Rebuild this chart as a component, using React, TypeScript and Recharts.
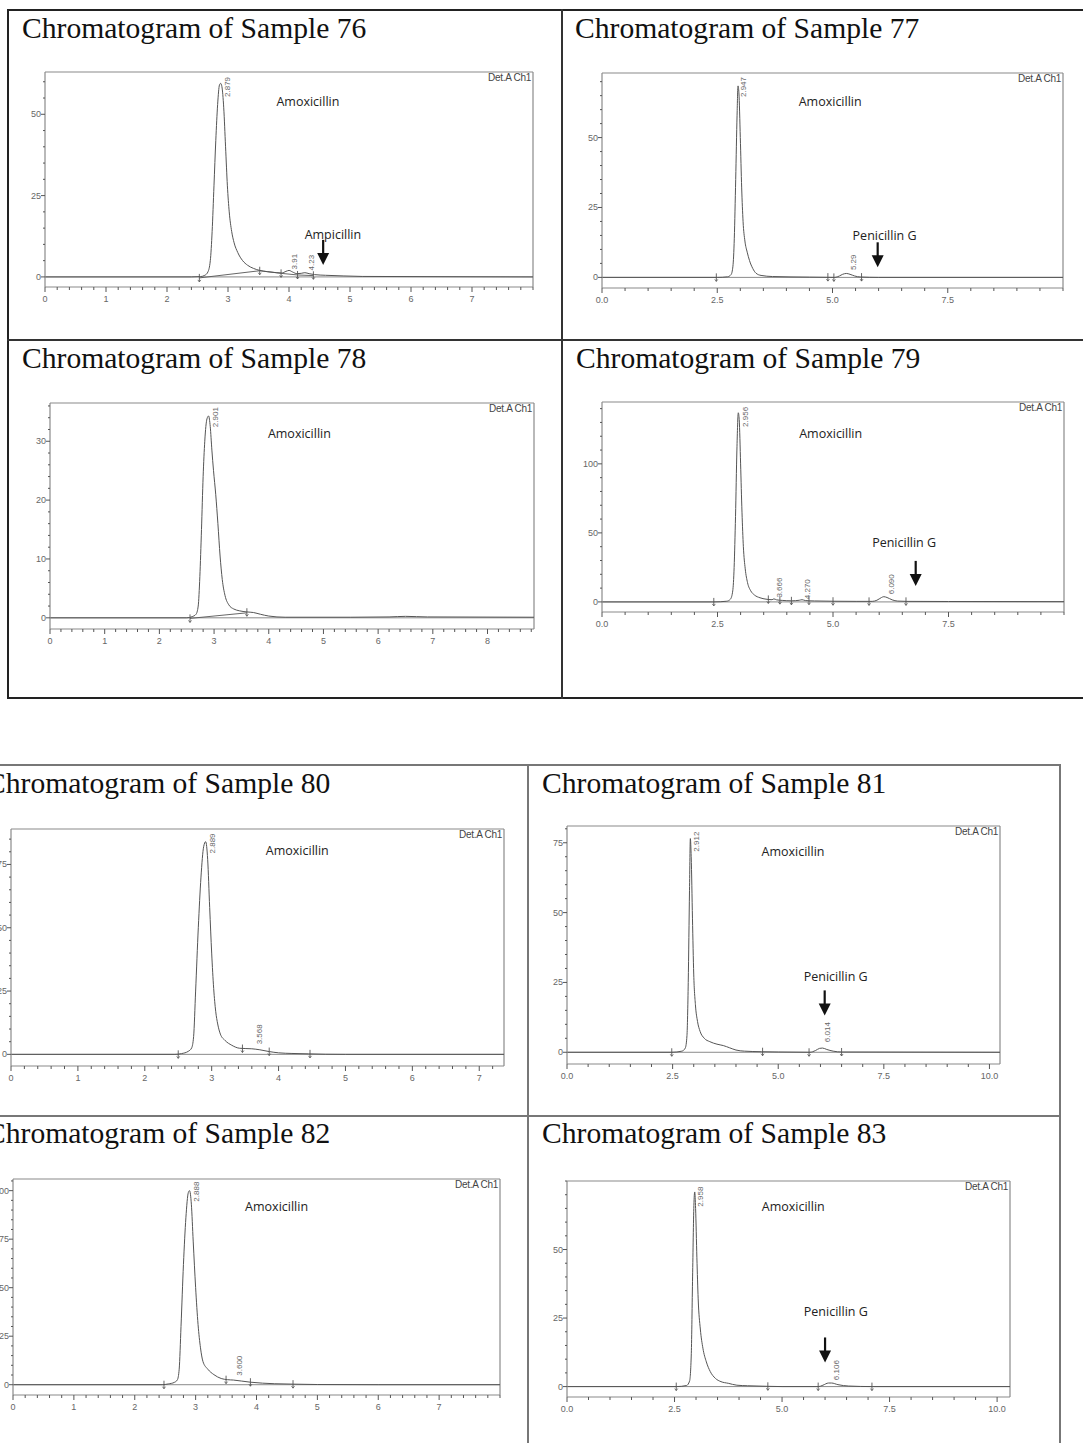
import React from 'react';
import { ComposedChart, Line, XAxis, YAxis, ReferenceLine, ReferenceDot } from 'recharts';

// retention time (min), detector signal (mAU)
const trace76 = [[0,0],[2.4,0],[2.55,0.1],[2.62,0.5],[2.67,1.5],[2.71,5],[2.74,14],[2.77,28],[2.8,42],[2.83,53],[2.86,59],[2.88,59.5],[2.9,58.5],[2.93,52],[2.96,40],[2.99,28],[3.02,20],[3.06,14],[3.1,10.5],[3.16,7.5],[3.24,5],[3.32,3.6],[3.42,2.6],[3.52,2],[3.65,1.6],[3.8,1.3],[3.88,1.2],[3.95,1.7],[4,2],[4.06,1.5],[4.13,1],[4.2,1.1],[4.26,1.3],[4.33,1],[4.42,0.7],[4.6,0.5],[4.9,0.3],[5.2,0.15],[6,0.1],[7,0.05],[8,0]];
const trace77 = [[0,0],[2.5,0],[2.72,0.2],[2.8,1],[2.84,4],[2.87,14],[2.9,35],[2.93,58],[2.95,68.5],[2.97,66],[3,50],[3.03,32],[3.06,20],[3.1,13],[3.15,9],[3.2,6],[3.27,3.2],[3.34,1.5],[3.45,0.7],[3.7,0.3],[4.5,0.1],[5.05,0],[5.15,0.5],[5.22,1.1],[5.3,1.4],[5.38,1.1],[5.48,0.5],[5.6,0.15],[6,0],[10,0]];
const trace78 = [[0,0],[2.5,0],[2.6,0.2],[2.67,0.6],[2.71,2],[2.74,7],[2.77,15],[2.8,24],[2.83,30],[2.87,33.8],[2.9,34.3],[2.93,32.5],[2.96,28.5],[2.99,25],[3.03,21],[3.07,16],[3.11,10.5],[3.15,6.5],[3.2,3.8],[3.27,2.2],[3.36,1.5],[3.46,1.2],[3.6,1],[3.72,0.9],[3.85,0.6],[4,0.3],[4.3,0.1],[5.5,0.1],[6.2,0.15],[6.5,0.25],[6.9,0.15],[8.85,0.1]];
const trace79 = [[0,0],[2.42,0],[2.7,0.5],[2.78,2],[2.83,8],[2.86,25],[2.89,62],[2.92,110],[2.95,137],[2.97,132],[3,100],[3.03,65],[3.06,40],[3.1,24],[3.15,14],[3.22,8],[3.3,5],[3.42,3],[3.55,2],[3.68,1.6],[3.72,2.2],[3.78,1.5],[3.9,1.1],[4.1,0.8],[4.27,1.2],[4.33,1.6],[4.4,1],[4.6,0.7],[5,0.5],[5.5,0.4],[5.85,0.4],[5.95,1.2],[6.05,3.2],[6.1,3.8],[6.17,3.2],[6.28,1.5],[6.4,0.6],[6.6,0.4],[7.5,0.3],[10,0.2]];
const trace80 = [[0,0],[2.45,0],[2.55,0.3],[2.65,1.2],[2.7,2.5],[2.73,7],[2.76,25],[2.8,50],[2.84,70],[2.88,82],[2.91,84],[2.94,77],[2.97,58],[3,40],[3.03,26],[3.06,17],[3.09,12],[3.13,8],[3.2,5.5],[3.3,3.6],[3.42,2.4],[3.5,2.3],[3.6,2.2],[3.72,1.8],[3.86,1.1],[4,0.6],[4.2,0.35],[4.45,0.2],[4.7,0.05],[5,0],[7.37,0]];
const trace81 = [[0,0],[2.48,0],[2.72,0.4],[2.8,1.5],[2.84,6],[2.87,25],[2.9,58],[2.92,76.5],[2.94,70],[2.97,48],[3,28],[3.04,17],[3.09,11],[3.15,7.5],[3.25,5],[3.38,3.8],[3.55,2.9],[3.7,2.4],[3.85,1.6],[4,0.8],[4.2,0.4],[4.6,0.2],[5,0.1],[5.75,0],[5.88,0.6],[5.98,1.4],[6.05,1.5],[6.15,1],[6.3,0.4],[6.5,0.1],[10.25,0]];
const trace82 = [[0,0],[2.45,0],[2.55,0.4],[2.65,1.2],[2.7,2.5],[2.73,8],[2.76,30],[2.8,62],[2.84,86],[2.88,99],[2.9,100],[2.93,93],[2.96,74],[3,50],[3.04,31],[3.08,19],[3.12,12],[3.2,8],[3.3,5.2],[3.42,3.2],[3.52,2.6],[3.62,2.4],[3.75,1.9],[3.9,1.3],[4.1,0.8],[4.3,0.5],[4.6,0.3],[5,0.1],[6,0],[8,0]];
const trace83 = [[0,0],[2.55,0],[2.78,0.4],[2.85,2],[2.89,12],[2.92,40],[2.95,66],[2.97,71],[2.99,65],[3.02,47],[3.05,32],[3.1,21],[3.16,14],[3.24,9],[3.33,5.5],[3.45,3],[3.58,1.8],[3.75,1.2],[3.95,0.5],[4.2,0.3],[4.65,0.1],[5,0],[5.85,0],[5.95,0.5],[6.08,1.3],[6.15,1.3],[6.3,0.7],[6.55,0.2],[7.1,0],[10.3,0]];

// integration baselines drawn under peaks
const base76 = [[2.53,-0.3],[3.52,1.9],[3.87,1.1],[4.14,0.6],[4.4,0.4]];
const base78 = [[2.56,-0.1],[3.6,0.85]];

// peak start / end marks
const marks76 = [[2.53,-0.3],[3.52,1.9],[3.87,1.1],[4.14,0.6],[4.4,0.5]];
const marks77 = [[2.48,0],[4.9,0.1],[5.03,0],[5.63,0.1]];
const marks78 = [[2.56,-0.1],[3.6,0.95]];
const marks79 = [[2.42,0],[3.6,1.8],[3.85,1.3],[4.1,0.8],[4.48,0.9],[5,0.5],[5.78,0.4],[6.58,0.4]];
const marks80 = [[2.5,0],[3.46,2.3],[3.86,1.1],[4.47,0.2]];
const marks81 = [[2.48,0],[4.63,0.2],[5.73,0],[6.5,0.1]];
const marks82 = [[2.48,0],[3.5,2.6],[3.9,1.3],[4.6,0.3]];
const marks83 = [[2.54,0],[4.67,0.1],[5.84,0],[7.09,0]];

// retention time labels: text, time, signal at label centre
const peaks76 = [['2.879',2.99,58.4],['3.91',4.08,4.7],['4.23',4.36,4.4]];
const peaks77 = [['2.947',3.06,68.1],['5.29',5.44,5.4]];
const peaks78 = [['2.901',3.02,34.1]];
const peaks79 = [['2.956',3.09,134],['3.666',3.83,10.4],['4.270',4.44,9.2],['6.090',6.25,12.8]];
const peaks80 = [['2.889',3.01,83.3],['3.568',3.71,7.9]];
const peaks81 = [['2.912',3.07,75.4],['6.014',6.15,7.2]];
const peaks82 = [['2.888',3.01,99.5],['3.600',3.72,9.8]];
const peaks83 = [['2.958',3.1,69.3],['6.106',6.27,6]];

// compound names: text, time, signal
const names76 = [['Amoxicillin',4.31,54],['Ampicillin',4.72,13]];
const names77 = [['Amoxicillin',4.95,63],['Penicillin G',6.13,15]];
const names78 = [['Amoxicillin',4.56,31.4]];
const names79 = [['Amoxicillin',4.95,121.8],['Penicillin G',6.54,43]];
const names80 = [['Amoxicillin',4.28,80.4]];
const names81 = [['Amoxicillin',5.35,72],['Penicillin G',6.36,27]];
const names82 = [['Amoxicillin',4.33,91.7]];
const names83 = [['Amoxicillin',5.26,65.6],['Penicillin G',6.25,27.4]];

// arrow tips (time, signal)
const arrow76 = [4.56, 3.7];
const arrow77 = [5.98, 3.6];
const arrow79 = [6.79, 11.6];
const arrow81 = [6.1, 13.2];
const arrow83 = [6.0, 8.8];

const minTicks = [0, 1, 2, 3, 4, 5, 6, 7];
const minTicks8 = [0, 1, 2, 3, 4, 5, 6, 7, 8];
const tenthTicks = [0, 2.5, 5, 7.5];
const tenthTicks10 = [0, 2.5, 5, 7.5, 10];

const range = (a: number, b: number, s: number) => {
  const out: number[] = [];
  for (let i = 0; a + i * s <= b + 1e-9; i++) out.push(Math.round((a + i * s) * 1000) / 1000);
  return out;
};

const toPts = (arr: number[][]) => arr.map(([t, v]) => ({ t, v }));

const panels = [
  { title: 'Chromatogram of Sample 76', tx: 22, ty: 38, frame: { l: 45, t: 72, r: 533, b: 286 },
    xDomain: [0, 8], xMajor: minTicks, xMinor: 0.2, xFmt: (v: number) => String(v),
    yDomain: [-3.1, 63], yMajor: [0, 25, 50], yMinor: 5,
    trace: trace76, base: base76, marks: marks76, peaks: peaks76, names: names76, arrow: arrow76 },
  { title: 'Chromatogram of Sample 77', tx: 575, ty: 38, frame: { l: 602, t: 73, r: 1063, b: 287 },
    xDomain: [0, 10], xMajor: tenthTicks, xMinor: 0.5, xFmt: (v: number) => v.toFixed(1),
    yDomain: [-3.8, 73.1], yMajor: [0, 25, 50], yMinor: 5,
    trace: trace77, marks: marks77, peaks: peaks77, names: names77, arrow: arrow77 },
  { title: 'Chromatogram of Sample 78', tx: 22, ty: 368, frame: { l: 50, t: 403, r: 534, b: 628 },
    xDomain: [0, 8.85], xMajor: minTicks8, xMinor: 0.2, xFmt: (v: number) => String(v),
    yDomain: [-1.9, 36.5], yMajor: [0, 10, 20, 30], yMinor: 2,
    trace: trace78, base: base78, marks: marks78, peaks: peaks78, names: names78 },
  { title: 'Chromatogram of Sample 79', tx: 576, ty: 368, frame: { l: 602, t: 402, r: 1064, b: 611 },
    xDomain: [0, 10], xMajor: tenthTicks, xMinor: 0.5, xFmt: (v: number) => v.toFixed(1),
    yDomain: [-7.3, 144.8], yMajor: [0, 50, 100], yMinor: 10,
    trace: trace79, marks: marks79, peaks: peaks79, names: names79, arrow: arrow79 },
  { title: 'Chromatogram of Sample 80', tx: -14, ty: 793, frame: { l: 11, t: 829, r: 504, b: 1065 },
    xDomain: [0, 7.37], xMajor: minTicks, xMinor: 0.2, xFmt: (v: number) => String(v),
    yDomain: [-4.6, 89], yMajor: [0, 25, 50, 75], yMinor: 5,
    trace: trace80, marks: marks80, peaks: peaks80, names: names80 },
  { title: 'Chromatogram of Sample 81', tx: 542, ty: 793, frame: { l: 567, t: 826, r: 1000, b: 1063 },
    xDomain: [0, 10.25], xMajor: tenthTicks10, xMinor: 0.5, xFmt: (v: number) => v.toFixed(1),
    yDomain: [-4.2, 81], yMajor: [0, 25, 50, 75], yMinor: 5,
    trace: trace81, marks: marks81, peaks: peaks81, names: names81, arrow: arrow81 },
  { title: 'Chromatogram of Sample 82', tx: -14, ty: 1143, frame: { l: 13, t: 1179, r: 500, b: 1394 },
    xDomain: [0, 8], xMajor: minTicks, xMinor: 0.2, xFmt: (v: number) => String(v),
    yDomain: [-5.3, 106], yMajor: [0, 25, 50, 75, 100], yMinor: 5,
    trace: trace82, marks: marks82, peaks: peaks82, names: names82 },
  { title: 'Chromatogram of Sample 83', tx: 542, ty: 1143, frame: { l: 567, t: 1181, r: 1010, b: 1396 },
    xDomain: [0, 10.3], xMajor: tenthTicks10, xMinor: 0.5, xFmt: (v: number) => v.toFixed(1),
    yDomain: [-3.8, 75], yMajor: [0, 25, 50], yMinor: 5,
    trace: trace83, marks: marks83, peaks: peaks83, names: names83, arrow: arrow83 },
];

const FRAME = '#8a8a8a';
const INK = '#555';
const TICKTXT = '#666';

function Chromatogram({ p }: { p: any }) {
  const yW = 40;
  const xH = 26;
  const { frame } = p;
  const w = frame.r - frame.l + yW + 2;
  const h = frame.b - frame.t + xH + 2;
  const isMajor = (list: number[], v: number) => list.some((m) => Math.abs(m - v) < 1e-6);
  const xTicks = range(p.xDomain[0], p.xDomain[1], p.xMinor);
  const yTicks = range(0, p.yDomain[1], p.yMinor);

  const xTick = (props: any) => {
    const { x, y, payload } = props;
    const major = isMajor(p.xMajor, payload.value);
    return (
      <g>
        <line x1={x} y1={y} x2={x} y2={y + (major ? 5 : 3)} stroke={INK} strokeWidth={1} />
        {major && (
          <text x={x} y={y + 15} textAnchor="middle" fontSize={9} fill={TICKTXT} fontFamily="Liberation Sans, Arial, sans-serif">
            {p.xFmt(payload.value)}
          </text>
        )}
      </g>
    );
  };
  const yTick = (props: any) => {
    const { x, y, payload } = props;
    const major = isMajor(p.yMajor, payload.value);
    return (
      <g>
        <line x1={x} y1={y} x2={x - (major ? 4 : 2)} y2={y} stroke={INK} strokeWidth={1} />
        {major && (
          <text x={x - 4} y={y + 3} textAnchor="end" fontSize={9} fill={TICKTXT} fontFamily="Liberation Sans, Arial, sans-serif">
            {payload.value}
          </text>
        )}
      </g>
    );
  };

  const ax = { xAxisId: 'x', yAxisId: 'y' };

  return (
    <div style={{ position: 'absolute', left: frame.l - yW, top: frame.t - 1 }}>
      <ComposedChart width={w} height={h} margin={{ top: 1, right: 2, bottom: 0, left: 0 }}>
        <XAxis xAxisId="x" type="number" dataKey="t" domain={p.xDomain} allowDataOverflow ticks={xTicks} interval={0}
          tick={xTick} tickLine={false} tickSize={0} tickMargin={0} height={xH} axisLine={{ stroke: FRAME, strokeWidth: 1.2 }} />
        <YAxis yAxisId="y" type="number" domain={p.yDomain} allowDataOverflow ticks={yTicks} interval={0}
          tick={yTick} tickLine={false} tickSize={0} tickMargin={0} width={yW} axisLine={{ stroke: FRAME, strokeWidth: 1.2 }} />
        {/* top and right sides of the plot frame */}
        <ReferenceLine {...ax} y={p.yDomain[1]} stroke={FRAME} strokeWidth={1.2} ifOverflow="visible" />
        <ReferenceLine {...ax} x={p.xDomain[1]} stroke={FRAME} strokeWidth={1.2} ifOverflow="visible" />
        <ReferenceLine {...ax} y={0} stroke="#8a8a8a" strokeWidth={1} />
        <Line {...ax} data={toPts(p.trace)} dataKey="v" type="monotone" dot={false} stroke={INK} strokeWidth={1} isAnimationActive={false} />
        {p.base && (
          <Line {...ax} data={toPts(p.base)} dataKey="v" type="linear" dot={false} stroke={INK} strokeWidth={0.9} isAnimationActive={false} />
        )}
        {p.marks.map(([t, v]: number[], i: number) => (
          <ReferenceDot key={'m' + i} {...ax} x={t} y={v} r={0} ifOverflow="visible"
            shape={(s: any) => (
              <g>
                <line x1={s.cx} y1={s.cy - 4} x2={s.cx} y2={s.cy + 4} stroke={INK} strokeWidth={0.9} />
                <line x1={s.cx - 1.5} y1={s.cy + 2} x2={s.cx} y2={s.cy + 4} stroke={INK} strokeWidth={0.8} />
                <line x1={s.cx + 1.5} y1={s.cy + 2} x2={s.cx} y2={s.cy + 4} stroke={INK} strokeWidth={0.8} />
              </g>
            )} />
        ))}
        {p.peaks.map(([txt, t, v]: any[], i: number) => (
          <ReferenceDot key={'p' + i} {...ax} x={t} y={v} r={0} ifOverflow="visible"
            shape={(s: any) => (
              <text x={s.cx} y={s.cy} transform={`rotate(-90 ${s.cx} ${s.cy})`} textAnchor="middle" dy={2.8}
                fontSize={8} fill="#666" fontFamily="Liberation Sans, Arial, sans-serif">{txt}</text>
            )} />
        ))}
        {p.names.map(([txt, t, v]: any[], i: number) => (
          <ReferenceDot key={'n' + i} {...ax} x={t} y={v} r={0} ifOverflow="visible"
            shape={(s: any) => (
              <text x={s.cx} y={s.cy} textAnchor="middle" dy={4.5} fontSize={12.5} fill="#222"
                fontFamily="Open Sans, sans-serif">{txt}</text>
            )} />
        ))}
        {p.arrow && (
          <ReferenceDot {...ax} x={p.arrow[0]} y={p.arrow[1]} r={0} ifOverflow="visible"
            shape={(s: any) => (
              <g>
                <line x1={s.cx} y1={s.cy - 25} x2={s.cx} y2={s.cy - 10} stroke="#111" strokeWidth={2.2} />
                <path d={`M${s.cx - 6},${s.cy - 12} L${s.cx + 6},${s.cy - 12} L${s.cx},${s.cy} Z`} fill="#111" />
              </g>
            )} />
        )}
        <ReferenceDot {...ax} x={p.xDomain[1]} y={p.yDomain[1]} r={0} ifOverflow="visible"
          shape={(s: any) => (
            <text x={s.cx - 2} y={s.cy + 9} textAnchor="end" fontSize={10} fill="#444" letterSpacing={-0.3}
              fontFamily="Liberation Sans, Arial, sans-serif">Det.A Ch1</text>
          )} />
      </ComposedChart>
    </div>
  );
}

const rule = (left: number, top: number, width: number, height: number, color: string) => (
  <div style={{ position: 'absolute', left, top, width, height, background: color }} />
);

export default function App() {
  return (
    <div style={{ position: 'absolute', left: 0, top: 0, width: 1083, height: 1443, overflow: 'hidden', background: '#fff' }}>
      {/* upper block */}
      {rule(8, 9, 1075, 2, '#222')}
      {rule(7, 9, 2, 690, '#222')}
      {rule(7, 697, 1076, 2, '#222')}
      {rule(561, 9, 2, 690, '#333')}
      {rule(7, 339, 1076, 2, '#333')}
      {/* lower block */}
      {rule(0, 764, 1061, 2, '#777')}
      {rule(1059, 764, 2, 679, '#777')}
      {rule(527, 764, 2, 679, '#777')}
      {rule(0, 1115, 1061, 2, '#777')}
      {panels.map((p) => (
        <div key={p.title} style={{ position: 'absolute', left: p.tx, top: p.ty - 24, fontFamily: 'Liberation Serif, Times New Roman, serif',
          fontSize: 29.6, lineHeight: '29px', color: '#111', whiteSpace: 'nowrap' }}>{p.title}</div>
      ))}
      {panels.map((p) => <Chromatogram key={p.title} p={p} />)}
    </div>
  );
}
